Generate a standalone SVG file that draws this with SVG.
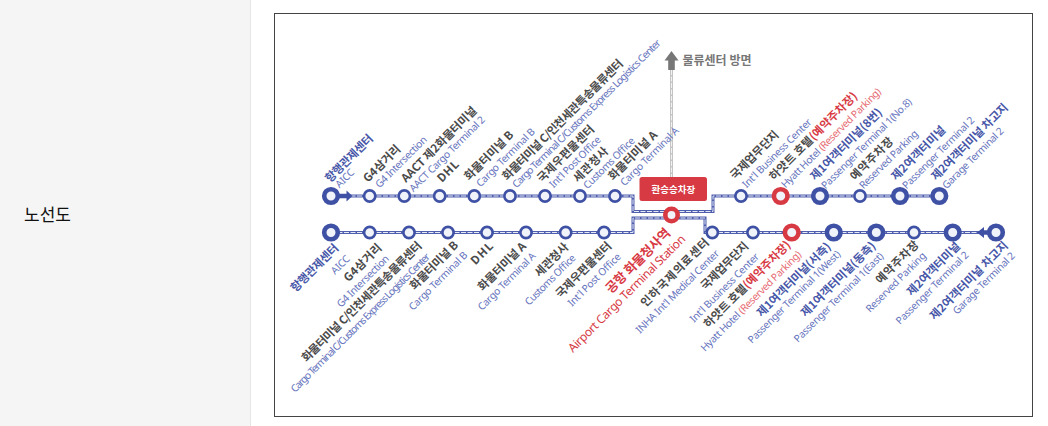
<svg xmlns="http://www.w3.org/2000/svg" width="1048" height="426" viewBox="0 0 1048 426">
<style>
text{font-family:"Noto Sans CJK KR","Noto Sans",sans-serif}
.ko{font-size:11.500px;font-weight:700;fill:#4a4a4a}
.kb{font-size:11.500px;font-weight:700;fill:#4656a8}
.kr{font-size:13px;font-weight:700;fill:#d83a44}
.en{font-family:"Noto Sans",sans-serif;font-size:10.200px;fill:#6573bd}
.er{font-family:"Noto Sans",sans-serif;font-size:12px;fill:#d83a44}
.red{fill:#d83a44}
.rl{fill:#e66a72}
.s{fill:#f1f3fa;stroke:#3f51a5;stroke-width:2.600}
.b{fill:#f1f3fa;stroke:#3f51a5;stroke-width:4.600}
.r{fill:#f1f3fa;stroke:#d83a44;stroke-width:4.600}
.ln{fill:none;stroke:#4f5fae;stroke-width:3}
.dl{fill:none;stroke:#e6e9f6;stroke-width:1;stroke-dasharray:5 1.500}
</style>
<g id="sidebar"><rect x="0" y="0" width="250" height="426" fill="#f5f5f5"/><rect x="250" y="0" width="1" height="426" fill="#e6e6e6"/>
<text x="24" y="221" font-size="17" fill="#111" style="font-weight:400">노선도</text></g>
<rect id="frame" x="274.500" y="13.500" width="758" height="403" fill="#fff" stroke="#444" stroke-width="1"/>
<g id="connectors">
<path d="M671.500 70V177" fill="none" stroke="#c4c4c4" stroke-width="3"/><path d="M671.500 70V177" fill="none" stroke="#f2f2f2" stroke-width="1" stroke-dasharray="5 1.500"/>
<path d="M664.500 60.500L671.500 51L678.500 60.500H674.800V70H668.200V60.500Z" fill="#777"/>
<path class="ln" d="M331 196H633V211.500H713V196H939"/><path class="dl" d="M331 196H633V211.500H713V196H939"/>
<path class="ln" d="M331 232.500H633V218H705V232.500H996"/><path class="dl" d="M331 232.500H633V218H705V232.500H996"/>
<path d="M338 193.700H346.500V190.500L352.500 196L346.500 201.500V198.300H338Z" fill="#3f51a5"/>
<path d="M990 230.200H984V227L977 232.500L984 238V234.800H990Z" fill="#3f51a5"/>
</g>
<g id="stations-top">
<circle id="t1" class="b" cx="331" cy="196" r="6.800"/><circle id="t2" class="s" cx="369.700" cy="196" r="5.600"/><circle id="t3" class="s" cx="404.300" cy="196" r="5.600"/><circle id="t4" class="s" cx="439.700" cy="196" r="5.600"/><circle id="t5" class="s" cx="474.300" cy="196" r="5.600"/><circle id="t6" class="s" cx="510" cy="196" r="5.600"/><circle id="t7" class="s" cx="545" cy="196" r="5.600"/><circle id="t8" class="s" cx="580" cy="196" r="5.600"/><circle id="t9" class="s" cx="615" cy="196" r="5.600"/>
<circle id="t10" class="s" cx="741" cy="196" r="5.600"/><circle id="t11" class="r" cx="780.700" cy="196" r="6.800"/><circle id="t12" class="b" cx="820" cy="196" r="6.800"/><circle id="t13" class="s" cx="860" cy="196" r="5.600"/><circle id="t14" class="b" cx="900" cy="196" r="6.800"/><circle id="t15" class="b" cx="939.300" cy="196" r="6.800"/>
</g>
<g id="stations-bottom">
<circle id="b1" class="b" cx="331" cy="232.500" r="6.800"/><circle id="b2" class="s" cx="369.700" cy="232.500" r="5.600"/><circle id="b3" class="s" cx="409" cy="232.500" r="5.600"/><circle id="b4" class="s" cx="448" cy="232.500" r="5.600"/><circle id="b5" class="s" cx="487" cy="232.500" r="5.600"/><circle id="b6" class="s" cx="526" cy="232.500" r="5.600"/><circle id="b7" class="s" cx="565.700" cy="232.500" r="5.600"/><circle id="b8" class="s" cx="604" cy="232.500" r="5.600"/>
<circle id="b9" class="s" cx="712.300" cy="232.500" r="5.600"/><circle id="b10" class="s" cx="753" cy="232.500" r="5.600"/><circle id="b11" class="r" cx="791.700" cy="232.500" r="6.800"/><circle id="b12" class="b" cx="833.700" cy="232.500" r="6.800"/><circle id="b13" class="b" cx="876.300" cy="232.500" r="6.800"/><circle id="b14" class="s" cx="914" cy="232.500" r="5.600"/><circle id="b15" class="b" cx="952.700" cy="232.500" r="6.800"/><circle id="b16" class="b" cx="996" cy="232.500" r="6.800"/>
</g>
<g id="transfer"><rect x="639.500" y="177" width="67.500" height="24" rx="2.500" fill="#d83a44"/><text x="673.300" y="193" font-size="9.500" fill="#fff" text-anchor="middle" style="font-weight:700">환승승차장</text><circle class="r" cx="671.500" cy="215" r="6.200"/></g>
<text id="direction" x="682.500" y="65" font-size="12" fill="#777" style="font-weight:700">물류센터 방면</text>
<g id="labels-top">
<text class="kb" transform="translate(330 183) rotate(-45)" textLength="62">항행관제센터</text><text class="en" transform="translate(339.500 188.500) rotate(-45)" textLength="22">AICC</text>
<text class="ko" transform="translate(368 183) rotate(-45)" textLength="47">G4삼거리</text><text class="en" transform="translate(379.500 188.500) rotate(-45)" textLength="68">G4 Intersection</text>
<text class="ko" transform="translate(406 183) rotate(-45)" textLength="101">AACT 제2화물터미널</text><text class="en" transform="translate(413.500 192.500) rotate(-45)" textLength="102">AACT Cargo Terminal 2</text>
<text class="ko" transform="translate(442 183) rotate(-45)" textLength="25">DHL</text>
<text class="ko" transform="translate(469 181) rotate(-45)" textLength="64">화물터미널 B</text><text class="en" transform="translate(480.500 187.500) rotate(-45)" textLength="78">Cargo Terminal B</text>
<text class="ko" transform="translate(507 181) rotate(-45)" textLength="165">화물터미널 C/인천세관특송물류센터</text><text class="en" transform="translate(516.500 188.500) rotate(-45)" textLength="205">Cargo Terminal C/Customs Express Logistics Center</text>
<text class="ko" transform="translate(542 183) rotate(-45)" textLength="75">국제우편물센터</text><text class="en" transform="translate(553.500 188.500) rotate(-45)" textLength="68">Int'l Post Office</text>
<text class="ko" transform="translate(578 183) rotate(-45)" textLength="44">세관청사</text><text class="en" transform="translate(587.500 189.500) rotate(-45)" textLength="68">Customs Office</text>
<text class="ko" transform="translate(613 181) rotate(-45)" textLength="64">화물터미널 A</text><text class="en" transform="translate(624.500 186.500) rotate(-45)" textLength="78">Cargo Terminal A</text>
<text class="ko" transform="translate(735 180) rotate(-45)" textLength="63">국제업무단지</text><text class="en" transform="translate(746.500 188.500) rotate(-45)" textLength="93">Int'l Business Center</text>
<text class="ko" transform="translate(774 181) rotate(-45)" textLength="119">하얏트 호텔<tspan class="red">(예약주차장)</tspan></text><text class="en" transform="translate(785.500 188.500) rotate(-45)" textLength="136">Hyatt Hotel <tspan class="rl">(Reserved Parking)</tspan></text>
<text class="kb" transform="translate(815 181) rotate(-45)" textLength="96">제1여객터미널(8번)</text><text class="en" transform="translate(825.500 189.500) rotate(-45)" textLength="123">Passenger Terminal 1(No.8)</text>
<text class="ko" transform="translate(855 181) rotate(-45)" textLength="55">예약주차장</text><text class="en" transform="translate(863.500 189.500) rotate(-45)" textLength="78">Reserved Parking</text>
<text class="kb" transform="translate(896 181) rotate(-45)" textLength="71">제2여객터미널</text><text class="en" transform="translate(906.500 189.500) rotate(-45)" textLength="97">Passenger Terminal 2</text>
<text class="kb" transform="translate(936 181) rotate(-45)" textLength="103">제2여객터미널 차고지</text><text class="en" transform="translate(946.500 189.500) rotate(-45)" textLength="82">Garage Terminal 2</text>
</g>
<g id="labels-bottom">
<text class="kb" transform="translate(295.500 292.500) rotate(-45)" textLength="62">항행관제센터</text><text class="en" transform="translate(335 275) rotate(-45)" textLength="22">AICC</text>
<text class="ko" transform="translate(348.500 282.500) rotate(-45)" textLength="48">G4삼거리</text><text class="en" transform="translate(341 308) rotate(-45)" textLength="69">G4 Intersection</text>
<text class="ko" transform="translate(306.500 362.500) rotate(-45)" textLength="164">화물터미널 C/인천세관특송물류센터</text><text class="en" transform="translate(295 393) rotate(-45)" textLength="192">Cargo Terminal C/Customs Express Logistics Center</text>
<text class="ko" transform="translate(414.500 290.500) rotate(-45)" textLength="63">화물터미널 B</text><text class="en" transform="translate(413 311) rotate(-45)" textLength="78">Cargo Terminal B</text>
<text class="ko" transform="translate(475.500 265.500) rotate(-45)" textLength="26">DHL</text>
<text class="ko" transform="translate(482.500 291.500) rotate(-45)" textLength="63">화물터미널 A</text><text class="en" transform="translate(482 311) rotate(-45)" textLength="77">Cargo Terminal A</text>
<text class="ko" transform="translate(539.500 277.500) rotate(-45)" textLength="42">세관청사</text><text class="en" transform="translate(529 306) rotate(-45)" textLength="67">Customs Office</text>
<text class="ko" transform="translate(560.500 298.500) rotate(-45)" textLength="73">국제우편물센터</text><text class="en" transform="translate(572 307) rotate(-45)" textLength="70">Int'l Post Office</text>
<text class="kr" transform="translate(611 294) rotate(-45)" textLength="85">공항 화물청사역</text><text class="er" transform="translate(573 353) rotate(-45)" textLength="160">Airport Cargo Terminal Station</text>
<text class="ko" transform="translate(645.500 307.500) rotate(-45)" textLength="91">인하국제의료센터</text><text class="en" transform="translate(640 334) rotate(-45)" textLength="113">INHA Int'l Medical Center</text>
<text class="ko" transform="translate(705.500 290.500) rotate(-45)" textLength="62">국제업무단지</text><text class="en" transform="translate(694 323) rotate(-45)" textLength="93">Int'l Business Center</text>
<text class="ko" transform="translate(708.500 328.500) rotate(-45)" textLength="117">하얏트 호텔<tspan class="red">(예약주차장)</tspan></text><text class="en" transform="translate(705 352) rotate(-45)" textLength="137">Hyatt Hotel <tspan class="rl">(Reserved Parking)</tspan></text>
<text class="kb" transform="translate(761.500 317.500) rotate(-45)" textLength="99">제1여객터미널(서측)</text><text class="en" transform="translate(752 344) rotate(-45)" textLength="126">Passenger Terminal 1(West)</text>
<text class="kb" transform="translate(805.500 317.500) rotate(-45)" textLength="100">제1여객터미널(동측)</text><text class="en" transform="translate(798 343) rotate(-45)" textLength="122">Passenger Terminal 1(East)</text>
<text class="ko" transform="translate(880.500 284.500) rotate(-45)" textLength="55">예약주차장</text><text class="en" transform="translate(870 313) rotate(-45)" textLength="80">Reserved Parking</text>
<text class="kb" transform="translate(911.500 296.500) rotate(-45)" textLength="70">제2여객터미널</text><text class="en" transform="translate(900 325) rotate(-45)" textLength="98">Passenger Terminal 2</text>
<text class="kb" transform="translate(934.500 320.500) rotate(-45)" textLength="105">제2여객터미널 차고지</text><text class="en" transform="translate(957 315) rotate(-45)" textLength="83">Garage Terminal 2</text>
</g>
</svg>
